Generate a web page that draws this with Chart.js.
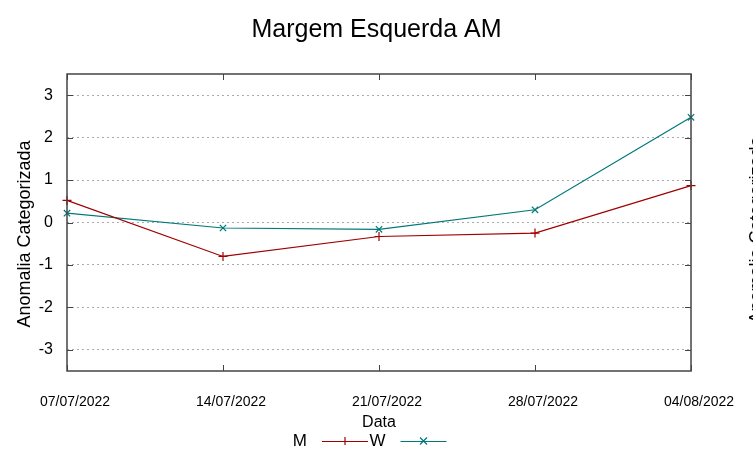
<!DOCTYPE html>
<html>
<head>
<meta charset="utf-8">
<script src="https://cdn.jsdelivr.net/npm/chart.js@4.4.1/dist/chart.umd.min.js"></script>
<style>
  html, body { margin: 0; padding: 0; background: #fff; overflow: hidden; }
  canvas { display: block; }
</style>
</head>
<body>
<canvas id="c" width="753" height="459"></canvas>
<script>
const categories = ['07/07/2022', '14/07/2022', '21/07/2022', '28/07/2022', '04/08/2022'];
const seriesM = [0.52, -0.80, -0.33, -0.25, 0.87];
const seriesW = [0.22, -0.13, -0.16, 0.30, 2.48];
const yTicks = [-3, -2, -1, 0, 1, 2, 3];
const seriesNames = ['M', 'W'];
const chartTitle = 'Margem Esquerda AM';
const xTitle = 'Data';
const yTitle = 'Anomalia Categorizada';

const FONT = "'Liberation Sans', Arial, sans-serif";
const colorM = '#a00000';
const colorW = '#007878';
const frameColor = '#444444';

const decorPlugin = {
  id: 'decor',
  afterDraw(chart) {
    const ctx = chart.ctx;
    const { left, right, top, bottom } = chart.chartArea;
    const xs = chart.scales.x, ys = chart.scales.y;
    ctx.save();
    // inner tick marks
    ctx.strokeStyle = frameColor;
    ctx.lineWidth = 1;
    ctx.beginPath();
    yTicks.forEach(v => {
      const y = Math.round(ys.getPixelForValue(v)) + 0.5;
      ctx.moveTo(left, y); ctx.lineTo(left + 6, y);
      ctx.moveTo(right - 6, y); ctx.lineTo(right, y);
    });
    categories.forEach((c, i) => {
      const x = Math.round(xs.getPixelForTick(i)) + 0.5;
      ctx.moveTo(x, bottom); ctx.lineTo(x, bottom - 6);
      ctx.moveTo(x, top); ctx.lineTo(x, top + 6);
    });
    ctx.stroke();
    // frame
    ctx.lineWidth = 1.5;
    ctx.strokeRect(left, top, right - left, bottom - top);

    // y axis title (left)
    ctx.fillStyle = '#000';
    ctx.font = "18px " + FONT;
    ctx.textAlign = 'center';
    ctx.textBaseline = 'middle';
    ctx.save();
    ctx.translate(25.5, 234);
    ctx.rotate(-Math.PI / 2);
    ctx.fillText(yTitle, 0, 0);
    ctx.restore();
    // secondary (clipped) axis title at the right edge
    ctx.save();
    ctx.translate(748, 230);
    ctx.rotate(-Math.PI / 2);
    ctx.textBaseline = 'top';
    ctx.fillText(yTitle, 0, 0);
    ctx.restore();

    // legend (gnuplot style: text then line sample)
    const cx = (left + right) / 2;
    const ly = 441;
    ctx.font = "17px " + FONT;
    ctx.textAlign = 'right';
    ctx.textBaseline = 'middle';
    chart.data.datasets.forEach((ds, i) => {
      const textRight = cx - 72 + i * 78.5;
      ctx.fillStyle = '#000';
      ctx.fillText(ds.label, textRight, ly);
      const x0 = textRight + 15, x1 = textRight + 61, xm = (x0 + x1) / 2;
      ctx.strokeStyle = ds.borderColor;
      ctx.lineWidth = 1.2;
      ctx.beginPath();
      ctx.moveTo(x0, ly + 0.5); ctx.lineTo(x1, ly + 0.5);
      if (ds.pointStyle === 'cross') {
        ctx.moveTo(xm, ly - 4); ctx.lineTo(xm, ly + 4);
      } else {
        ctx.moveTo(xm - 3.5, ly - 3.5); ctx.lineTo(xm + 3.5, ly + 3.5);
        ctx.moveTo(xm - 3.5, ly + 3.5); ctx.lineTo(xm + 3.5, ly - 3.5);
      }
      ctx.stroke();
    });
    ctx.restore();
  }
};

new Chart(document.getElementById('c'), {
  type: 'line',
  data: {
    labels: categories,
    datasets: [
      {
        label: seriesNames[0], data: seriesM,
        borderColor: colorM, backgroundColor: colorM, borderWidth: 1.2,
        pointStyle: 'cross', pointRadius: 4.5, pointBorderColor: colorM, pointBorderWidth: 1.2,
        tension: 0, fill: false
      },
      {
        label: seriesNames[1], data: seriesW,
        borderColor: colorW, backgroundColor: colorW, borderWidth: 1.2,
        pointStyle: 'crossRot', pointRadius: 4.5, pointBorderColor: colorW, pointBorderWidth: 1.2,
        tension: 0, fill: false
      }
    ]
  },
  options: {
    responsive: false,
    animation: false,
    devicePixelRatio: 1,
    layout: { padding: { left: 0, right: 0, top: 0, bottom: 26.6 } },
    plugins: {
      legend: { display: false },
      tooltip: { enabled: false },
      title: {
        display: true, text: chartTitle, color: '#000',
        font: { family: FONT, size: 25, weight: 'normal', lineHeight: 1.2 },
        padding: { top: 15, bottom: 29 }
      }
    },
    scales: {
      x: {
        type: 'category', offset: false,
        afterFit: s => { s.height = 61.4; },
        grid: { display: false, drawTicks: false, tickLength: 0 },
        border: { display: false },
        ticks: {
          color: '#000', font: { family: FONT, size: 14, lineHeight: 1.2 },
          padding: 23, labelOffset: 8, maxRotation: 0, autoSkip: false
        },
        title: {
          display: true, text: xTitle, color: '#000',
          font: { family: FONT, size: 16, lineHeight: 1.2 },
          padding: { top: 1, bottom: 0 }
        }
      },
      y: {
        type: 'linear', min: -3.5, max: 3.5,
        afterBuildTicks: s => { s.ticks = yTicks.map(v => ({ value: v })); },
        afterFit: s => { s.width = 67; },
        grid: { color: '#aaaaaa', lineWidth: 1, drawTicks: false, tickLength: 0 },
        border: { display: false, dash: [2, 3] },
        ticks: {
          color: '#000', font: { family: FONT, size: 16, lineHeight: 1.2 },
          padding: 14
        },
        title: { display: false }
      },
      yRight: {
        type: 'linear', position: 'right', min: -3.5, max: 3.5,
        afterFit: s => { s.width = 62; },
        grid: { display: false, drawTicks: false },
        border: { display: false },
        ticks: { display: false },
        title: { display: false }
      }
    }
  },
  plugins: [decorPlugin]
});
</script>
</body>
</html>
